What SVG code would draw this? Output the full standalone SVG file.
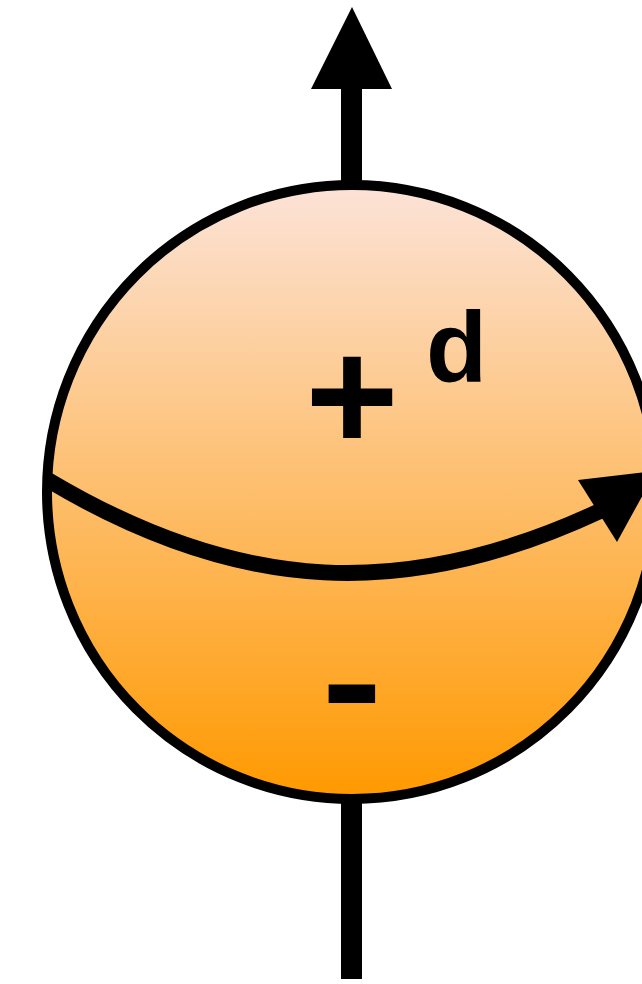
<svg xmlns="http://www.w3.org/2000/svg" width="642" height="984" viewBox="0 0 642 984">
  <defs>
    <linearGradient id="sphereFill" x1="0" y1="0" x2="0" y2="1">
      <stop offset="0" stop-color="#fce3d8"/>
      <stop offset="1" stop-color="#ff9900"/>
    </linearGradient>
    <style>
      .line { fill: none; stroke: #000; }
      .head { fill: #000; stroke: none; }
      .label { font-family: "Liberation Sans", Arial, sans-serif; font-weight: bold; fill: #000; }
    </style>
  </defs>
  <rect width="642" height="984" fill="#fff"/>
  <g id="connectors">
    <line class="line" x1="351.5" y1="190" x2="351.5" y2="86" stroke-width="21"/>
    <polygon class="head" points="311,89 392,89 352,7"/>
    <line class="line" x1="351.5" y1="795" x2="351.5" y2="979" stroke-width="21"/>
  </g>
  <g id="sphere">
    <ellipse cx="352" cy="492" rx="305" ry="307" fill="url(#sphereFill)" stroke="#000" stroke-width="10"/>
  </g>
  <g id="rotation-arrow">
    <path class="line" d="M 48 480 C 241 595 407 601 600 511" stroke-width="16"/>
    <polygon class="head" points="578,480 656,471 617,542"/>
  </g>
  <g id="label-plus">
    <text class="label" x="352" y="451" font-size="160" text-anchor="middle">+</text>
  </g>
  <g id="label-d">
    <text class="label" x="426" y="382" font-size="100">d</text>
  </g>
  <g id="label-minus">
    <text class="label" x="0" y="0" font-size="155" text-anchor="middle" transform="translate(352,734) scale(1.18,1)">-</text>
  </g>
</svg>
